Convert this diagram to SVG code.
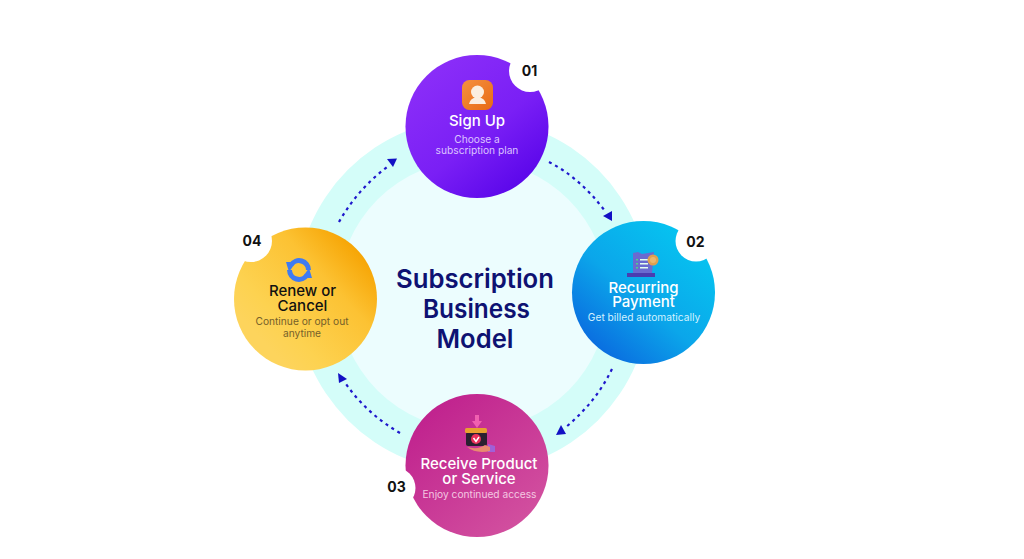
<svg xmlns="http://www.w3.org/2000/svg" width="1024" height="559" viewBox="0 0 1024 559">
<style>
text{font-family:"Inter","Liberation Sans",sans-serif;text-anchor:middle}
.t{font-size:15px;font-weight:500;fill:#fff}
.s{font-size:10.200px;fill:#dcc4ff}
.n{font-size:14px;font-weight:700;fill:#111}
.c{font-size:26px;font-weight:600;fill:#0e1272}
.d{fill:none;stroke:#1f18cc;stroke-width:2.200;stroke-dasharray:3 4}
.h{fill:#1210c4}
</style>
<defs>
<linearGradient id="g1" x1="0.2" y1="0.1" x2="0.85" y2="0.9"><stop offset="0" stop-color="#8a2df8"/><stop offset="0.55" stop-color="#7a1ff5"/><stop offset="1" stop-color="#5a06ea"/></linearGradient>
<linearGradient id="g2" x1="0.85" y1="0.15" x2="0.2" y2="0.9"><stop offset="0" stop-color="#06c3f0"/><stop offset="0.55" stop-color="#0ba6ea"/><stop offset="1" stop-color="#0a6fe0"/></linearGradient>
<linearGradient id="g3" x1="0.15" y1="0.1" x2="0.85" y2="0.9"><stop offset="0" stop-color="#c0228e"/><stop offset="1" stop-color="#d2509f"/></linearGradient>
<linearGradient id="g4" x1="0.95" y1="0.2" x2="0.25" y2="0.85"><stop offset="0" stop-color="#f6a200"/><stop offset="0.35" stop-color="#fcc233"/><stop offset="0.8" stop-color="#fdd250"/><stop offset="1" stop-color="#fdd45c"/></linearGradient>
<linearGradient id="ic" x1="0" y1="0" x2="1" y2="1"><stop offset="0" stop-color="#f59040"/><stop offset="1" stop-color="#e86a14"/></linearGradient>
</defs>
<rect width="1024" height="559" fill="#fff"/>
<g id="ring">
<circle cx="473" cy="295" r="177" fill="#d4fdf9"/>
<circle cx="473" cy="295" r="135" fill="#ecfdfe"/>
</g>
<g id="center"><text class="c" x="475" y="288" textLength="158" lengthAdjust="spacingAndGlyphs">Subscription</text><text class="c" x="476.500" y="317.500" textLength="107" lengthAdjust="spacingAndGlyphs">Business</text><text class="c" x="475" y="347.500" textLength="77" lengthAdjust="spacingAndGlyphs">Model</text></g>
<g id="connectors">
<path class="d" d="M549 162Q580 178 605 211"/><path class="h" d="M603 216L612 211L612 221Z"/>
<path class="d" d="M612 369Q596 402 566 427"/><path class="h" d="M561 425L556 435L566 434Z"/>
<path class="d" d="M400 433Q367 414 346 384"/><path class="h" d="M338 373L347 379L339 383Z"/>
<path class="d" d="M339 222Q357 190 387 167"/><path class="h" d="M387 159L397 158.500L393 167Z"/>
</g>
<g id="node1">
<circle cx="477" cy="126.500" r="71.500" fill="url(#g1)"/><circle cx="530" cy="71" r="21" fill="#fff"/>
<text class="n" x="529.500" y="76">01</text>
<rect x="462" y="80" width="31" height="30" rx="7.500" fill="url(#ic)"/>
<circle cx="477.500" cy="92" r="6.500" fill="#fbeee0"/><path d="M469 104Q470 98 477.500 97Q485 98 486 104Z" fill="#fbeee0"/>
<text class="t" x="477" y="126">Sign Up</text>
<text class="s" x="477" y="143">Choose a</text><text class="s" x="477" y="154">subscription plan</text>
</g>
<g id="node2">
<circle cx="643.500" cy="292.500" r="71.500" fill="url(#g2)"/><circle cx="696" cy="241" r="20.500" fill="#fff"/>
<text class="n" x="695.500" y="247">02</text>
<path d="M633 253L638 252L642 254L654 252L652 273L633 273Z" fill="#6a6bd0"/>
<path d="M627 273H655V277H627Z" fill="#4a3db0"/>
<rect x="640" y="259" width="8" height="1.500" fill="#e4fff0"/><rect x="640" y="263" width="8" height="1.500" fill="#e4fff0"/><rect x="640" y="267" width="8" height="1.500" fill="#e4fff0"/>
<rect x="636" y="259" width="2" height="1.500" fill="#4fd08a"/><rect x="636" y="263" width="2" height="1.500" fill="#4fd08a"/><rect x="636" y="267" width="2" height="1.500" fill="#4fd08a"/>
<circle cx="653" cy="260" r="5.500" fill="#e0a050"/><circle cx="653" cy="260" r="3" fill="#eab76e"/>
<text class="t" x="643.500" y="292.500">Recurring</text><text class="t" x="643.500" y="307">Payment</text>
<text class="s" x="644" y="321" style="fill:#d2f2ff">Get billed automatically</text>
</g>
<g id="node3">
<circle cx="477" cy="465.500" r="71.500" fill="url(#g3)"/><circle cx="395" cy="488" r="20.500" fill="#fff"/>
<text class="n" x="396.500" y="492">03</text>
<path d="M475 415H479V421H482L477 428L472 421H475Z" fill="#f060b0"/>
<rect x="466" y="432" width="21" height="14" rx="2" fill="#2a2030"/><rect x="465" y="428" width="22" height="5" rx="1.500" fill="#e8a030"/>
<circle cx="476" cy="439" r="5" fill="#e8305a"/><path d="M473.500 438L476 441.500L479 437" fill="none" stroke="#fff" stroke-width="1.500"/>
<path d="M488 444L495 446V452L488 452Z" fill="#a060d8"/>
<path d="M467 447Q478 450 485 445L490 447V451Q476 454 467 447Z" fill="#e88a70"/>
<text class="t" x="479" y="469">Receive Product</text><text class="t" x="479" y="484">or Service</text>
<text class="s" x="479.500" y="497.500" style="fill:#f4c8e2">Enjoy continued access</text>
</g>
<g id="node4">
<circle cx="305.500" cy="299" r="71.500" fill="url(#g4)"/><circle cx="251" cy="241" r="21" fill="#fff"/>
<text class="n" x="252" y="246">04</text>
<path d="M308.500 270A9.500 9.500 0 0 0 291 265" fill="none" stroke="#3f7bf2" stroke-width="5"/><path d="M286 262L296 262L289 272Z" fill="#3f7bf2"/>
<path d="M289.500 270A9.500 9.500 0 0 0 307 275" fill="none" stroke="#3f7bf2" stroke-width="5"/><path d="M312 278L302 278L309 268Z" fill="#3f7bf2"/>
<text class="t" x="302.500" y="296" style="fill:#111">Renew or</text><text class="t" x="302.500" y="311" style="fill:#111">Cancel</text>
<text class="s" x="302" y="325" style="fill:#75602a">Continue or opt out</text><text class="s" x="302" y="336.500" style="fill:#75602a">anytime</text>
</g>
</svg>
